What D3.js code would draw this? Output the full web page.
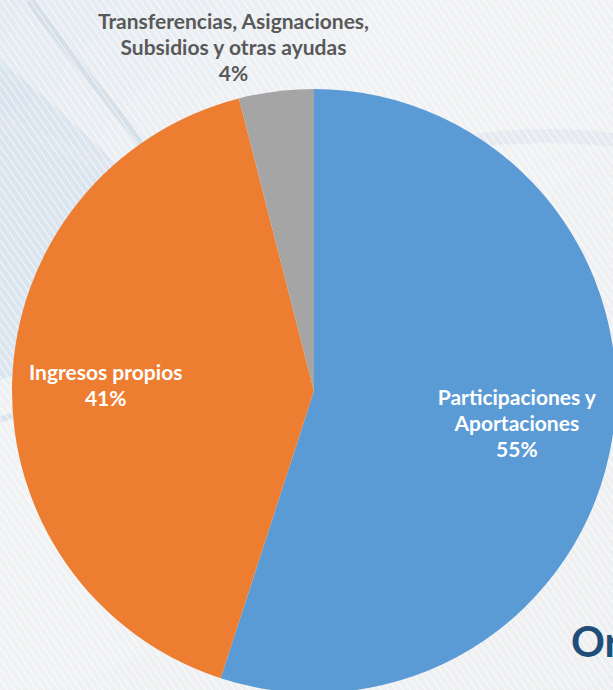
<!DOCTYPE html>
<html>
<head>
<meta charset="utf-8">
<title>Ingresos</title>
<style>
  html, body { margin: 0; padding: 0; overflow: hidden; }
  svg { display: block; }
</style>
</head>
<body>
<svg id="chart"></svg>
<script src="https://cdn.jsdelivr.net/npm/d3@7"></script>
<script>
// data
var categories = ["Participaciones y Aportaciones", "Ingresos propios", "Transferencias, Asignaciones, Subsidios y otras ayudas"];
var values = [55, 41, 4];
var colors = ["#5b9bd5", "#ed7d31", "#a5a5a5"];
var labelLines = [
  ["Participaciones y", "Aportaciones", "55%"],
  ["Ingresos propios", "41%"],
  ["Transferencias, Asignaciones,", "Subsidios y otras ayudas", "4%"]
];

var width = 613, height = 690;
var cx = 314, cy = 391, radius = 302;

var svg = d3.select("#chart").attr("width", width).attr("height", height);

// background, light with soft blue swirl on the left
var defs = svg.append("defs");
var bg = defs.append("linearGradient").attr("id", "bg")
  .attr("x1", 0).attr("y1", 0).attr("x2", 1).attr("y2", 1);
bg.append("stop").attr("offset", 0).attr("stop-color", "#e3eaf1");
bg.append("stop").attr("offset", 0.35).attr("stop-color", "#f1f2f4");
bg.append("stop").attr("offset", 1).attr("stop-color", "#eeeff1");

var stripes = defs.append("pattern").attr("id", "stripes")
  .attr("width", 6).attr("height", 6)
  .attr("patternUnits", "userSpaceOnUse")
  .attr("patternTransform", "rotate(-35)");
stripes.append("line").attr("x1", 0).attr("y1", 0).attr("x2", 0).attr("y2", 6)
  .attr("stroke", "#ffffff").attr("stroke-width", 2).attr("opacity", 0.7);

svg.append("rect").attr("width", width).attr("height", height).attr("fill", "url(#bg)");

// swirl shapes
var swirl = svg.append("g").attr("fill", "none");
swirl.append("path")
  .attr("d", "M0,60 C60,110 120,160 170,230 C200,280 150,330 60,360 L0,380 Z")
  .attr("fill", "#d4e1ec").attr("opacity", 0.7);
swirl.append("path")
  .attr("d", "M30,0 C70,60 130,120 180,200 C210,250 240,300 300,330")
  .attr("stroke", "#c9d7e3").attr("stroke-width", 8).attr("opacity", 0.6);
swirl.append("path")
  .attr("d", "M0,120 C70,150 160,200 250,190 C350,180 450,120 613,140")
  .attr("stroke", "#dfe6ee").attr("stroke-width", 14).attr("opacity", 0.6);
swirl.append("path")
  .attr("d", "M0,420 C60,400 120,360 180,300")
  .attr("stroke", "#cdd9e4").attr("stroke-width", 6).attr("opacity", 0.6);

svg.append("rect").attr("width", width).attr("height", height).attr("fill", "url(#stripes)");

// slide title fragment at bottom right (cut by the frame, as in the source)
svg.append("text")
  .attr("x", 571).attr("y", 657)
  .attr("font-family", "Lato, 'Open Sans', sans-serif")
  .attr("font-weight", "bold")
  .attr("font-size", 42)
  .attr("fill", "#1f4e79")
  .text("Or");

// pie
var pie = d3.pie().sort(null).value(function (d) { return d; });
var arcs = pie(values);
var arc = d3.arc().innerRadius(0).outerRadius(radius);

var g = svg.append("g").attr("transform", "translate(" + cx + "," + cy + ")");

g.selectAll("path")
  .data(arcs)
  .enter().append("path")
  .attr("d", arc)
  .attr("fill", function (d, i) { return colors[i]; });

// label anchor points (radial factor for each slice, plus a sideways nudge)
var labelRadius = [0.68, 0.69, 1.15];
var labelNudge = [0, 0, -37];
var lineHeight = 26;
var fontSize = 21;
var labelColor = ["#ffffff", "#ffffff", "#595959"];

var labels = svg.append("g")
  .attr("font-family", "Lato, 'Open Sans', sans-serif")
  .attr("font-weight", "bold")
  .attr("font-size", fontSize)
  .attr("text-anchor", "middle");

arcs.forEach(function (d, i) {
  var a = (d.startAngle + d.endAngle) / 2;
  var r = radius * labelRadius[i];
  var x = cx + Math.sin(a) * r + labelNudge[i];
  var y = cy - Math.cos(a) * r + 1;
  var lines = labelLines[i];
  var y0 = y - (lines.length - 1) * lineHeight / 2;
  var t = labels.append("text")
    .attr("fill", labelColor[i]);
  lines.forEach(function (s, k) {
    t.append("tspan")
      .attr("x", x)
      .attr("y", y0 + k * lineHeight)
      .attr("dy", "0.35em")
      .text(s);
  });
});
</script>
</body>
</html>
